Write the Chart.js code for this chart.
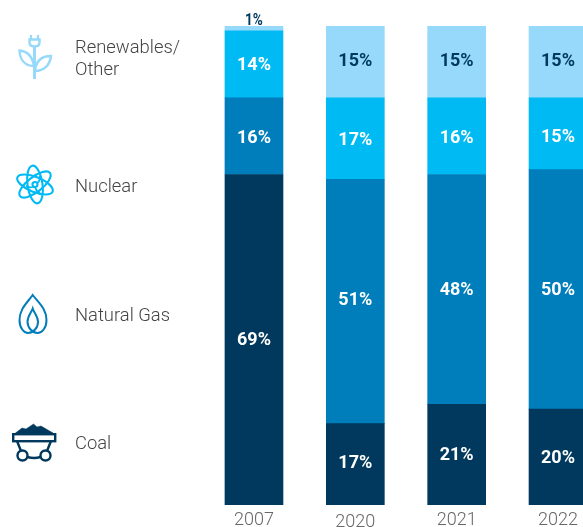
<!DOCTYPE html>
<html>
<head>
<meta charset="utf-8">
<script src="https://cdn.jsdelivr.net/npm/chart.js@4"></script>
<style>
html, body { margin: 0; padding: 0; background: #fff; }
#wrap { position: relative; width: 583px; height: 527px; overflow: hidden; }
canvas { position: absolute; left: 0; top: 0; }
.name { position: absolute; left: 75px; font: 300 18.4px/22px Roboto, sans-serif; color: #444; white-space: nowrap; }
svg.icon { position: absolute; left: 0; top: 0; fill: none; }
</style>
</head>
<body>
<div id="wrap">
  <canvas id="grafica" width="640" height="527"></canvas>
  <svg class="icon" width="70" height="527" viewBox="0 0 70 527">
    <!-- planta con enchufe -->
    <g stroke="#96d9fa" stroke-width="2.4">
      <path d="M34.5 46V79" stroke-width="3"/>
      <path d="M31 35V40M38 35V40" stroke-width="2.2"/>
      <path d="M29.5 39.5H39.5V42.5Q39.5 46.5 34.5 46.5Q29.5 46.5 29.5 42.5Z"/>
      <path d="M34 66C32 55 26 51 19.5 50.5C20 60 25 66 34 66Z"/>
      <path d="M35 71C36 60 43 56 51 56C50 65 44 71 35 71Z"/>
    </g>
    <!-- atomo -->
    <g stroke="#00bbf3" stroke-width="2.1" transform="translate(35 184.5) rotate(-8)">
      <ellipse rx="7.5" ry="19"/>
      <ellipse rx="7.5" ry="19" transform="rotate(60)"/>
      <ellipse rx="7.5" ry="19" transform="rotate(-60)"/>
      <circle r="2.5"/>
      <path d="M2.5 -1Q6 -3 6 -8M-2 2Q-6 3 -9 0M0 3Q0 7 4 9" stroke-width="1.8"/>
    </g>
    <!-- llama -->
    <g stroke="#007dbb" stroke-width="2">
      <path d="M32.7 295C27 303 19.5 309 19.5 320C19.5 328 24 333 28 333C33 333 38 328 38 322C38 316 34 313 32.7 308.5C31 313 27.5 316 27.5 322C27.5 328 33 333 37.5 333C42 333 46.5 328 46.5 320C46.5 309 39 303 32.7 295Z"/>
    </g>
    <!-- vagoneta -->
    <g stroke="#00395d">
      <path d="M15.5 433L22 428L26 429L33.5 424L37 427L41 426L53 433Z" fill="#00395d" stroke-width="0.5"/>
      <rect x="13.2" y="434.2" width="42" height="7" stroke-width="2.4"/>
      <path d="M17 441L21 451M51 441L47 451M27.5 457Q34 459 40.5 457" stroke-width="2.4"/>
      <circle cx="22.5" cy="455.5" r="5" stroke-width="2.4"/>
      <circle cx="45.5" cy="455.5" r="5" stroke-width="2.4"/>
    </g>
  </svg>
  <div class="name" style="top:36px">Renewables/</div>
  <div class="name" style="top:58px">Other</div>
  <div class="name" style="top:175px">Nuclear</div>
  <div class="name" style="top:304px">Natural Gas</div>
  <div class="name" style="top:432px">Coal</div>
</div>
<script>
// Datos
var anios = ['2007', '2020', '2021', '2022'];
var carbon = [69, 17, 21, 20];
var gasNatural = [16, 51, 48, 50];
var nuclear = [14, 17, 16, 15];
var renovables = [1, 15, 15, 15];

var azulOscuro = '#00395d';

// Las etiquetas del original no estan del todo centradas (serie, anio)
var ajusteEtiqueta = [
    [1, -1, 1, 1],
    [2, -1, 1, 1],
    [1, 2, 2, 4],
    [0, 0, 0, 0]
];

// Etiquetas de porcentaje dentro de cada segmento
var etiquetas = {
    id: 'etiquetas',
    afterDatasetsDraw: function(chart) {
        var ctx = chart.ctx;
        ctx.save();
        ctx.textAlign = 'center';
        ctx.textBaseline = 'middle';
        chart.data.datasets.forEach(function(dataset, i) {
            chart.getDatasetMeta(i).data.forEach(function(bar, j) {
                var valor = dataset.data[j];
                ctx.fillStyle = dataset.colorTexto;
                if (valor < 3) {
                    // el 1% no cabe: va encima de la barra y mas estrecho
                    ctx.save();
                    ctx.translate(bar.x, bar.y - 5.5);
                    ctx.scale(0.82, 1);
                    ctx.font = '700 16.5px Roboto, sans-serif';
                    ctx.fillText(valor + '%', 0, 0);
                    ctx.restore();
                } else {
                    ctx.font = '700 18px Roboto, sans-serif';
                    ctx.fillText(valor + '%', bar.x, (bar.y + bar.base) / 2 + ajusteEtiqueta[i][j]);
                }
            });
        });
        ctx.restore();
    }
};

new Chart(document.getElementById('grafica').getContext('2d'), {
    type: 'bar',
    data: {
        labels: anios,
        datasets: [
            { label: 'Coal', data: carbon, backgroundColor: azulOscuro, colorTexto: '#fff' },
            { label: 'Natural Gas', data: gasNatural, backgroundColor: '#007dbb', colorTexto: '#fff' },
            { label: 'Nuclear', data: nuclear, backgroundColor: '#00bbf3', colorTexto: '#fff' },
            { label: 'Renewables/Other', data: renovables, backgroundColor: '#96d9fa', colorTexto: azulOscuro }
        ]
    },
    options: {
        responsive: false,
        animation: false,
        layout: { padding: { left: 203.3, right: 31.3, top: 26, bottom: 0 } },
        datasets: { bar: { barThickness: 58 } },
        plugins: { legend: { display: false }, tooltip: { enabled: false } },
        scales: {
            x: {
                stacked: true,
                grid: { display: false, drawTicks: false },
                border: { display: false },
                ticks: {
                    color: '#666',
                    padding: 4.5,
                    // 2020 va un poco mas abajo en el original
                    font: function(c) {
                        return { family: 'Roboto', size: 18, weight: '300', lineHeight: c.index === 1 ? '25px' : '21px' };
                    }
                },
                afterFit: function(scale) { scale.height = 22; }
            },
            y: { stacked: true, display: false, min: 0, max: 100 }
        }
    },
    plugins: [etiquetas]
});
</script>
</body>
</html>
